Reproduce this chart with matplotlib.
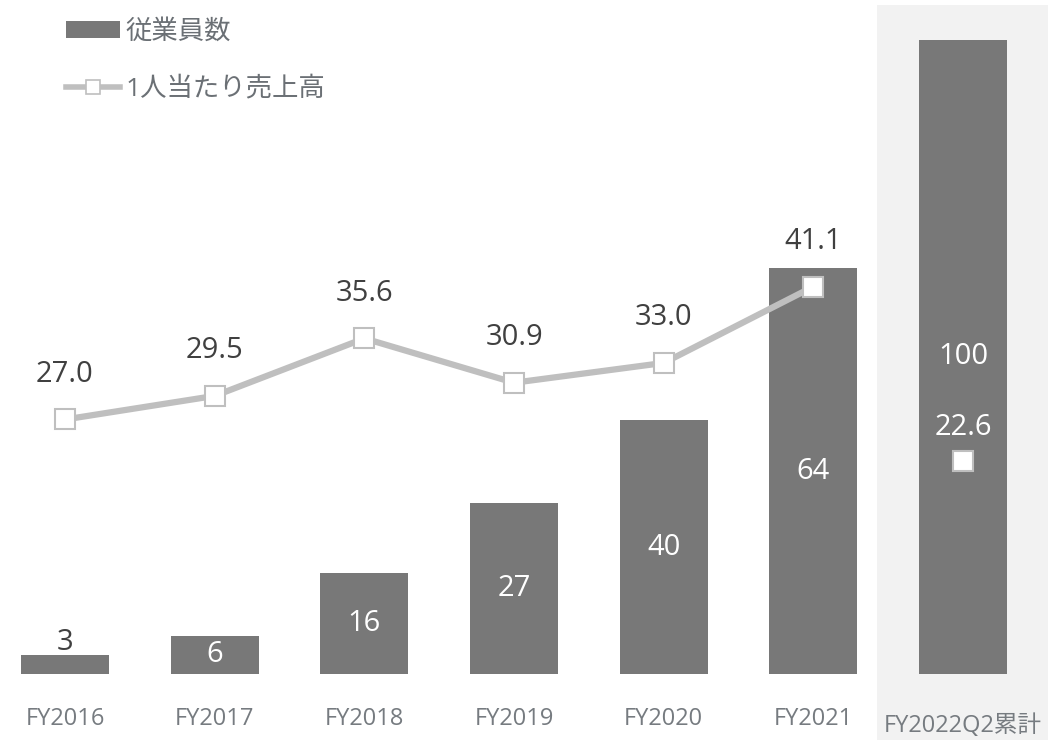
import matplotlib
matplotlib.use("Agg")
import matplotlib.pyplot as plt
from matplotlib.patches import Rectangle, Patch
from matplotlib.lines import Line2D

plt.rcParams['font.family'] = ['Open Sans', 'Noto Sans CJK JP', 'DejaVu Sans']

# data
categories = ["FY2016", "FY2017", "FY2018", "FY2019", "FY2020", "FY2021", "FY2022Q2累計"]
employees = [3, 6, 16, 27, 40, 64, 100]
sales_per_person = [27.0, 29.5, 35.6, 30.9, 33.0, 41.1, 22.6]

bar_col = "#787878"
line_col = "#bfbfbf"
txt_col = "#404040"
tick_col = "#767b80"

fig = plt.figure(figsize=(10.59, 7.45), dpi=100)
ax = fig.add_axes([0, 1 - 674 / 745, 1, 674 / 745])
ax.patch.set_visible(False)

# grey panel behind the last category
fig.patches.append(Rectangle((877 / 1059, 5 / 745), (1048 - 877) / 1059, 735 / 745,
                             transform=fig.transFigure, facecolor="#f2f2f2",
                             edgecolor="none", zorder=-1))

x = list(range(len(categories)))
ax.bar(x, employees, width=0.588, color=bar_col, zorder=2)
ax.set_xlim(-0.434, 6.64)
ax.set_ylim(0, 106.3)

for i, v in enumerate(employees):
    if i == 0:
        ax.annotate(str(v), (i, v), xytext=(0, 12), textcoords="offset pixels",
                    ha="center", va="center", fontsize=21, color=txt_col)
    else:
        ax.text(i, v / 2, str(v), ha="center", va="center", fontsize=21, color="white")

ax2 = ax.twinx()
ax2.patch.set_visible(False)
ax2.set_ylim(0, 71.5)
ax2.plot(x[:-1], sales_per_person[:-1], color=line_col, lw=4.5, marker="s", ms=15,
         mfc="white", mec=line_col, mew=1.5, zorder=3)
ax2.plot(x[-1:], sales_per_person[-1:], linestyle="none", marker="s", ms=15,
         mfc="white", mec=line_col, mew=1.5, zorder=3)
for i, v in enumerate(sales_per_person):
    last = i == len(sales_per_person) - 1
    ax2.annotate(f"{v:.1f}", (i, v), xytext=(0, 33 if last else 45), textcoords="offset pixels",
                 ha="center", va="center", fontsize=21, color="white" if last else txt_col)

for a in (ax, ax2):
    for s in a.spines.values():
        s.set_visible(False)
    a.set_yticks([])

ax.set_xticks(x)
ax.set_xticklabels(categories, fontsize=17, color=tick_col)
ax.tick_params(axis="x", length=0, pad=24)
ax.xaxis.get_major_ticks()[-1].set_pad(29)

handles = [Patch(facecolor=bar_col, edgecolor="none"),
           Line2D([], [], color=line_col, lw=4, marker="s", ms=10, mfc="white", mec=line_col, mew=1.2)]
leg = ax2.legend(handles, ["従業員数", "1人当たり売上高"], loc="upper left",
                 bbox_to_anchor=(66 / 1059, 1 - 20 / 745), bbox_transform=fig.transFigure,
                 frameon=False, fontsize=19, handlelength=2.05, handleheight=0.58,
                 handletextpad=0.2, labelspacing=1.2, borderpad=0, borderaxespad=0)
for t in leg.get_texts():
    t.set_color("#6b7075")

fig.savefig("out.png", dpi=100)
